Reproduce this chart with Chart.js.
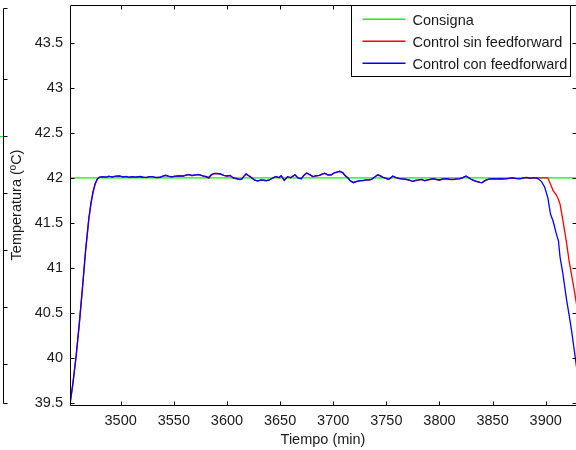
<!DOCTYPE html>
<html>
<head>
<meta charset="utf-8">
<script src="https://cdn.jsdelivr.net/npm/chart.js@4/dist/chart.umd.min.js"></script>
<style>
  html, body { margin: 0; padding: 0; background: #fff; }
  #c { display: block; }
</style>
</head>
<body>
<canvas id="c" width="576" height="450"></canvas>
<script>
// Series names and colours (legend order)
const seriesNames = ['Consigna', 'Control sin feedforward', 'Control con feedforward'];
const seriesColors = ['#00ff00', '#ff0000', '#0000ff'];

// Axis ranges and tick values
const xRange = [3452.3, 3928.5];
const yRange = [39.48, 43.92];
const xTickValues = [3500, 3550, 3600, 3650, 3700, 3750, 3800, 3850, 3900];
const yTickValues = [39.5, 40, 40.5, 41, 41.5, 42, 42.5, 43, 43.5];

// Setpoint (min, ºC)
const setpointTimes = [3452.3, 3928.5];
const setpointValues = [42, 42];

// Sample times (min)
const times = [
  3452, 3455, 3458, 3461, 3464, 3467, 3470, 3472, 3474, 3476,
  3478, 3480, 3483, 3486, 3489, 3492, 3495, 3499, 3502, 3505,
  3508, 3511, 3514, 3518, 3521, 3524, 3527, 3530, 3533, 3537,
  3539, 3542, 3545, 3548, 3551, 3555, 3559, 3561, 3564, 3567,
  3570, 3573, 3576, 3578, 3581, 3583, 3585, 3588, 3591, 3594,
  3597, 3600, 3603, 3606, 3609, 3612, 3614, 3616, 3618, 3620,
  3623, 3626, 3629, 3632, 3635, 3637, 3640, 3643, 3646, 3649,
  3651, 3654, 3657, 3660, 3664, 3667, 3670, 3672, 3675, 3678,
  3681, 3684, 3687, 3690, 3692, 3695, 3698, 3701, 3704, 3706,
  3709, 3711, 3714, 3716, 3719, 3722, 3725, 3728, 3731, 3734,
  3736, 3739, 3742, 3745, 3747, 3750, 3752, 3754, 3756, 3759,
  3763, 3766, 3769, 3772, 3775, 3778, 3780, 3783, 3786, 3789,
  3791, 3794, 3797, 3800, 3803, 3807, 3810, 3813, 3816, 3819,
  3822, 3825, 3828, 3830, 3833, 3835, 3838, 3840, 3842, 3844,
  3847, 3851, 3854, 3857, 3860, 3863, 3866, 3869, 3872, 3876,
  3879, 3882, 3885, 3888, 3891, 3893, 3896, 3899, 3902, 3904.5,
  3907, 3910, 3912, 3913.5, 3916, 3919.6, 3922, 3924.4, 3926.5, 3929
];

// Temperature without feedforward (ºC)
const tempSinFF = [
  39.46, 39.71, 40.01, 40.37, 40.77, 41.19, 41.54, 41.71, 41.84, 41.93,
  41.985, 42.008, 42.012, 42.008, 42.020, 42.010, 42.018, 42.020, 42.010, 42.015,
  42.006, 42.012, 42.008, 42.014, 42.010, 42.004, 42.012, 42.014, 42.003, 42.006,
  42.015, 42.028, 42.018, 42.010, 42.018, 42.022, 42.020, 42.033, 42.040, 42.025,
  42.032, 42.040, 42.028, 42.018, 42.008, 41.995, 42.030, 42.048, 42.050, 42.042,
  42.028, 42.020, 42.025, 41.998, 41.990, 41.982, 41.988, 42.018, 42.042, 42.028,
  42.004, 41.978, 41.965, 41.975, 41.972, 41.968, 41.978, 41.998, 42.015, 42.002,
  42.022, 41.972, 42.012, 42.002, 42.034, 41.998, 41.990, 42.022, 42.054, 42.035,
  42.012, 42.022, 42.028, 42.043, 42.050, 42.032, 42.033, 42.055, 42.066, 42.072,
  42.058, 42.028, 41.998, 41.968, 41.950, 41.960, 41.968, 41.970, 41.975, 41.978,
  41.983, 42.008, 42.035, 42.018, 42.005, 41.993, 41.983, 41.998, 42.020, 42.003,
  41.990, 41.988, 41.983, 41.973, 41.960, 41.972, 41.975, 41.983, 41.968, 41.978,
  41.983, 41.990, 41.983, 41.975, 41.988, 41.990, 41.983, 41.983, 41.988, 41.990,
  42.003, 42.020, 41.998, 41.983, 41.968, 41.960, 41.950, 41.945, 41.962, 41.975,
  41.988, 41.990, 41.988, 41.990, 41.988, 41.990, 41.995, 41.998, 41.993, 41.990,
  41.998, 42.005, 41.996, 41.998, 41.998, 42.000, 42.000, 42.000, 42.000, 41.930,
  41.860, 41.810, 41.760, 41.710, 41.540, 41.280, 41.080, 40.920, 40.780, 40.600
];

// Temperature with feedforward (ºC)
const tempConFF = [
  39.47, 39.72, 40.02, 40.38, 40.78, 41.20, 41.55, 41.72, 41.85, 41.94,
  41.99, 42.01, 42.015, 42.010, 42.018, 42.012, 42.020, 42.022, 42.012, 42.018,
  42.008, 42.015, 42.010, 42.016, 42.008, 42.006, 42.014, 42.016, 42.005, 42.008,
  42.018, 42.030, 42.020, 42.012, 42.020, 42.024, 42.022, 42.030, 42.038, 42.028,
  42.034, 42.038, 42.030, 42.022, 42.015, 42.005, 42.035, 42.050, 42.048, 42.044,
  42.030, 42.022, 42.028, 42.000, 41.995, 41.985, 41.990, 42.020, 42.045, 42.030,
  42.006, 41.975, 41.968, 41.978, 41.975, 41.970, 41.980, 42.000, 42.018, 42.005,
  42.025, 41.975, 42.015, 42.005, 42.036, 42.000, 41.992, 42.025, 42.056, 42.037,
  42.015, 42.025, 42.030, 42.045, 42.052, 42.035, 42.035, 42.058, 42.068, 42.074,
  42.060, 42.030, 42.000, 41.970, 41.948, 41.962, 41.970, 41.972, 41.978, 41.980,
  41.985, 42.010, 42.037, 42.020, 42.007, 41.995, 41.985, 42.000, 42.022, 42.005,
  41.993, 41.990, 41.985, 41.975, 41.963, 41.975, 41.978, 41.985, 41.970, 41.980,
  41.985, 41.993, 41.985, 41.978, 41.990, 41.993, 41.985, 41.985, 41.990, 41.993,
  42.005, 42.022, 42.000, 41.985, 41.970, 41.963, 41.952, 41.948, 41.965, 41.978,
  41.990, 41.993, 41.990, 41.993, 41.990, 41.993, 41.998, 42.000, 41.995, 41.993,
  42.000, 42.007, 41.998, 42.000, 42.000, 41.990, 41.960, 41.900, 41.780, 41.600,
  41.520, 41.380, 41.300, 41.120, 40.950, 40.650, 40.480, 40.300, 40.120, 39.900
];

const FONT = { family: "'Liberation Sans', Arial, Helvetica, sans-serif", size: 14.5 };
const TEXT_COLOR = '#1a1a1a';

const toPoints = (xs, ys) => xs.map((x, i) => ({ x, y: ys[i] }));

// MATLAB-style box: frame, inward ticks, boxed legend and the edge of the neighbouring axes
const framePlugin = {
  id: 'frame',
  afterDraw(chart) {
    const ctx = chart.ctx;
    const { left, right, top, bottom } = chart.chartArea;
    const xs = chart.scales.x, ys = chart.scales.y;
    const L = Math.round(left) + 0.5, R = Math.round(right) + 0.5;
    const T = Math.round(top) + 0.5, B = Math.round(bottom) + 0.5;
    const tick = 4;
    ctx.save();
    ctx.lineWidth = 1;

    // neighbouring axes edge on the far left
    const nx = 3.5, ny0 = T + 3, ny1 = B - 2;
    ctx.strokeStyle = '#000';
    ctx.beginPath();
    ctx.moveTo(nx, ny0); ctx.lineTo(nx, ny1);
    ctx.moveTo(nx, ny0); ctx.lineTo(nx + tick, ny0);
    ctx.moveTo(nx, ny1); ctx.lineTo(nx + tick, ny1);
    for (let y = ny0 + 70; y < ny1 - 20; y += 57.2) {
      const yy = Math.round(y) + 0.5;
      ctx.moveTo(nx, yy); ctx.lineTo(nx + tick, yy);
    }
    ctx.stroke();
    ctx.fillStyle = seriesColors[0];
    ctx.fillRect(0, Math.round(ny0 + 127), 3, 1);

    // axes box
    ctx.strokeStyle = '#000';
    ctx.beginPath();
    ctx.moveTo(L, T); ctx.lineTo(R, T); ctx.lineTo(R, B); ctx.lineTo(L, B); ctx.closePath();
    ctx.stroke();

    // inward ticks
    ctx.beginPath();
    xTickValues.forEach(v => {
      const px = Math.round(xs.getPixelForValue(v)) + 0.5;
      ctx.moveTo(px, B); ctx.lineTo(px, B - tick);
      ctx.moveTo(px, T); ctx.lineTo(px, T + tick);
    });
    yTickValues.forEach(v => {
      const py = Math.round(ys.getPixelForValue(v)) + 0.5;
      ctx.moveTo(L, py); ctx.lineTo(L + tick, py);
      ctx.moveTo(R, py); ctx.lineTo(R - tick, py);
    });
    ctx.stroke();

    // legend box
    const bx0 = 351.5, bx1 = R - 6, by0 = T, by1 = T + 71;
    ctx.fillStyle = '#fff';
    ctx.fillRect(bx0, by0, bx1 - bx0, by1 - by0);
    ctx.strokeStyle = '#000';
    ctx.strokeRect(bx0, by0, bx1 - bx0, by1 - by0);
    ctx.font = `${FONT.size}px ${FONT.family}`;
    ctx.textBaseline = 'middle';
    ctx.textAlign = 'left';
    seriesNames.forEach((name, i) => {
      const rowY = Math.round(by0 + 13 + i * 22) + 0.2;
      ctx.strokeStyle = seriesColors[i];
      ctx.lineWidth = 1.4;
      ctx.beginPath();
      ctx.moveTo(bx0 + 11, rowY);
      ctx.lineTo(bx0 + 54, rowY);
      ctx.stroke();
      ctx.fillStyle = TEXT_COLOR;
      ctx.fillText(name, bx0 + 61, rowY + 2);
    });
    ctx.restore();
  }
};

new Chart(document.getElementById('c'), {
  type: 'line',
  data: {
    datasets: [
      { label: seriesNames[0], data: toPoints(setpointTimes, setpointValues), borderColor: seriesColors[0], order: 2 },
      { label: seriesNames[1], data: toPoints(times, tempSinFF), borderColor: seriesColors[1], order: 1 },
      { label: seriesNames[2], data: toPoints(times, tempConFF), borderColor: seriesColors[2], order: 0 }
    ]
  },
  options: {
    responsive: false,
    animation: false,
    devicePixelRatio: 1,
    layout: { padding: { top: 5, right: 0, bottom: 0, left: 0 } },
    elements: {
      line: { borderWidth: 1.3, tension: 0, fill: false },
      point: { radius: 0 }
    },
    plugins: { legend: { display: false }, tooltip: { enabled: false } },
    scales: {
      x: {
        type: 'linear',
        min: xRange[0],
        max: xRange[1],
        afterBuildTicks: s => { s.ticks = xTickValues.map(v => ({ value: v })); },
        afterFit: s => { s.height = 45; s.paddingLeft = 0; s.paddingRight = 0; },
        grid: { display: false, drawTicks: false },
        border: { display: false },
        ticks: { font: FONT, color: TEXT_COLOR, padding: 7, maxRotation: 0, autoSkip: false, callback: v => String(v) },
        title: { display: true, text: 'Tiempo (min)', font: FONT, color: TEXT_COLOR, padding: { top: 0, bottom: 1 } }
      },
      y: {
        type: 'linear',
        min: yRange[0],
        max: yRange[1],
        afterBuildTicks: s => { s.ticks = yTickValues.map(v => ({ value: v })); },
        afterFit: s => { s.width = 70; s.paddingTop = 0; s.paddingBottom = 0; },
        grid: { display: false, drawTicks: false },
        border: { display: false },
        ticks: { font: FONT, color: TEXT_COLOR, padding: 7, autoSkip: false, callback: v => String(v) },
        title: { display: true, text: 'Temperatura (ºC)', font: FONT, color: TEXT_COLOR, padding: { top: 8, bottom: 0 } }
      }
    }
  },
  plugins: [framePlugin]
});
</script>
</body>
</html>
